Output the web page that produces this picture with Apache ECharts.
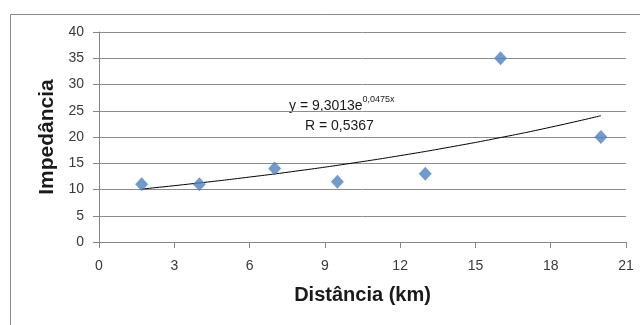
<!DOCTYPE html>
<html><head><meta charset="utf-8">
<script src="https://cdn.jsdelivr.net/npm/echarts@6/dist/echarts.min.js"></script>
<style>html,body{margin:0;padding:0;background:#fff}#c{width:640px;height:325px}</style>
</head><body><div id="c"></div>
<script>
// Data
var distancia = [1.7, 4, 7, 9.5, 13, 16, 20];
var impedancia = [11, 11, 14, 11.5, 13, 35, 20];
// Trendline (y = 9,3013e^0,0475x) values
var trendX = [1.7, 4, 6, 8, 10, 12, 14, 16, 18, 20];
var trendY = [10.08, 11.25, 12.37, 13.60, 14.96, 16.45, 18.09, 19.89, 21.87, 24.05];
var xTicks = [0, 3, 6, 9, 12, 15, 18, 21];
var yTicks = [0, 5, 10, 15, 20, 25, 30, 35, 40];
var eqText = 'y = 9,3013e';
var eqExp = '0,0475x';
var rText = 'R = 0,5367';

var chart = echarts.init(document.getElementById('c'), null, {renderer: 'canvas'});
var font = 'Liberation Sans';
chart.setOption({
  animation: false,
  backgroundColor: '#fff',
  grid: {left: 99, right: 14, top: 32, bottom: 83},
  xAxis: {
    type: 'value', min: xTicks[0], max: xTicks[xTicks.length - 1], interval: 3,
    name: 'Distância (km)', nameLocation: 'middle', nameGap: 43,
    nameTextStyle: {fontFamily: font, fontWeight: 'bold', fontSize: 20, color: '#1a1a1a'},
    axisLine: {lineStyle: {color: '#868686'}},
    axisTick: {show: true, length: 6, lineStyle: {color: '#868686'}},
    axisLabel: {fontFamily: font, fontSize: 14, color: '#3a3a3a', margin: 17},
    splitLine: {show: false}
  },
  yAxis: {
    type: 'value', min: yTicks[0], max: yTicks[yTicks.length - 1], interval: 5,
    name: 'Impedância', nameLocation: 'middle', nameGap: 39, nameRotate: 90,
    nameTextStyle: {fontFamily: font, fontWeight: 'bold', fontSize: 21, color: '#1a1a1a'},
    axisLine: {show: true, lineStyle: {color: '#868686'}},
    axisTick: {show: true, length: 6, lineStyle: {color: '#868686'}},
    axisLabel: {fontFamily: font, fontSize: 14, color: '#3a3a3a', margin: 15},
    splitLine: {show: true, lineStyle: {color: '#8c8c8c', width: 1}}
  },
  series: [
    {
      type: 'line', data: trendX.map(function (x, i) { return [x, trendY[i]]; }),
      smooth: true, showSymbol: false, lineStyle: {color: '#000', width: 1}, z: 2
    },
    {
      type: 'scatter', data: distancia.map(function (x, i) { return [x, impedancia[i]]; }),
      symbol: 'diamond', symbolSize: [13, 14],
      itemStyle: {color: '#4f81bd'}, z: 3
    }
  ],
  graphic: [
    {type: 'rect', shape: {x: 10.5, y: 14.5, width: 700, height: 400},
     style: {fill: 'none', stroke: '#8a8a8a', lineWidth: 1}, silent: true},
    {type: 'text', left: 289, top: 95,
     style: {text: '{a|' + eqText + '}{b|' + eqExp + '}', rich: {
       a: {fontFamily: font, fontSize: 14, fill: '#1a1a1a', verticalAlign: 'bottom'},
       b: {fontFamily: font, fontSize: 9, fill: '#1a1a1a', verticalAlign: 'top', padding: [0, 0, 9, 0]}
     }}},
    {type: 'text', left: 305, top: 119,
     style: {text: rText, fontFamily: font, fontSize: 14, fill: '#1a1a1a'}}
  ]
});
</script></body></html>
